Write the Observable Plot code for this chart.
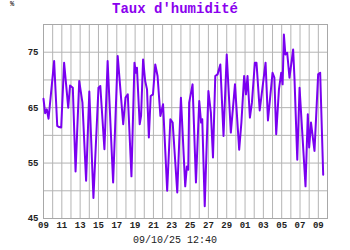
<!DOCTYPE html>
<html>
<head>
<meta charset="utf-8">
<script src="https://cdn.jsdelivr.net/npm/d3@7"></script>
<script src="https://cdn.jsdelivr.net/npm/@observablehq/plot@0.6"></script>
<style>
  html, body { margin: 0; padding: 0; background: #fff; }
  #wrap { position: relative; width: 350px; height: 250px; overflow: hidden; }
  #wrap svg { position: absolute; left: 0; top: 0; }
  .txt { position: absolute; font-family: "Liberation Mono", "DejaVu Sans Mono", monospace; font-weight: bold; white-space: nowrap; }
  #title { left: 0; width: 350px; text-align: center; top: 1px; font-size: 14px; color: #8a00ee; }
  #unit { left: 10px; top: 0px; font-size: 7px; color: #333; }
  #caption { left: 0; width: 350px; text-align: center; top: 235px; font-size: 10px; color: #222; font-weight: normal; }
</style>
</head>
<body>
<div id="wrap">
  <div id="title" class="txt">Taux d'humidité</div>
  <div id="unit" class="txt">%</div>
  <div id="caption" class="txt">09/10/25 12:40</div>
</div>
<script>
// ---- data ----
const startDate = "2025-09-09T00:00:00Z";
const endDate = "2025-10-10T00:00:00Z";
const dayOffsets = [
  0.0, 0.18, 0.36, 0.55, 1.16, 1.5, 1.7, 1.93, 2.25, 2.7, 2.9, 3.2, 3.5, 3.9, 4.25, 4.65, 5.0, 5.45, 6.0, 6.2, 6.65, 7.0, 7.6,
  8.1, 8.7, 8.95, 9.2, 9.6, 9.93, 10.07, 10.2, 10.5, 10.65, 10.87, 11.1, 11.3, 11.5, 11.7, 11.95, 12.2, 12.45, 12.76, 13.05, 13.5, 13.85, 14.1, 14.6, 15.0,
  15.47, 15.65, 15.8, 15.9, 16.27, 16.64, 17.0, 17.2, 17.33, 17.6, 18.0, 18.27, 18.5, 18.75, 19.0, 19.3, 19.65, 20.0, 20.45, 20.9, 21.36, 21.6, 21.9, 22.1, 22.27, 22.53, 22.75, 23.07,
  23.25, 23.6, 24.24, 24.5, 25.0, 25.2, 25.4, 25.7, 25.95, 26.1, 26.24, 26.4, 26.6, 26.85, 27.25, 27.4, 27.7, 27.95, 28.6, 28.85, 29.0, 29.2, 29.58, 29.98, 30.2, 30.53
];
const humidity = [
  66.6, 64.0, 64.7, 63.0, 73.4, 61.7, 61.5, 61.4, 73.1, 65.0, 69.0, 68.6, 53.5, 69.8, 65.9, 51.8, 67.9, 48.7, 68.6, 68.9, 57.5, 73.4, 51.5,
  74.3, 62.0, 66.8, 67.4, 52.6, 73.1, 71.3, 72.2, 62.0, 63.5, 73.7, 69.8, 68.3, 59.6, 67.1, 67.4, 72.8, 70.7, 63.5, 65.6, 50.0, 62.9, 62.3, 49.7, 66.8,
  50.8, 54.4, 53.8, 65.9, 69.2, 51.5, 66.2, 62.3, 62.9, 47.2, 68.0, 64.1, 56.0, 70.7, 71.0, 72.8, 59.9, 74.6, 60.5, 69.2, 57.4, 62.3, 70.7, 67.4, 70.7, 63.2, 65.9, 73.1,
  73.1, 64.5, 73.1, 62.7, 71.3, 70.4, 60.2, 68.3, 71.3, 69.2, 78.2, 74.6, 74.9, 70.4, 75.5, 70.1, 55.6, 68.6, 50.8, 63.8, 57.8, 62.3, 57.2, 71.0, 71.3, 52.9
];
const xTickDates = ["2025-09-09","2025-09-11","2025-09-13","2025-09-15","2025-09-17","2025-09-19","2025-09-21","2025-09-23","2025-09-25","2025-09-27","2025-09-29","2025-10-01","2025-10-03","2025-10-05","2025-10-07","2025-10-09"];
const yTickLabels = [45, 55, 65, 75];
const yGridValues = [50, 55, 60, 65, 70, 75];

// ---- build ----
const t0 = new Date(startDate);
const t1 = new Date(endDate);
const data = dayOffsets.map((d, i) => ({ date: new Date(+t0 + d * 864e5), value: humidity[i] }));
const dayLines = d3.utcDay.range(t0, new Date(+t1 + 1));
const font = { fontFamily: "Liberation Mono, DejaVu Sans Mono, monospace", fontWeight: "bold", fontSize: 9, fill: "#222" };

const chart = Plot.plot({
  width: 350,
  height: 250,
  marginLeft: 43,
  marginRight: 23,
  marginTop: 24,
  marginBottom: 32,
  style: { background: "transparent", overflow: "visible" },
  x: { type: "utc", domain: [t0, t1] },
  y: { domain: [45, 80] },
  marks: [
    Plot.ruleX(dayLines, { stroke: "#b4b4b4", strokeWidth: 1 }),
    Plot.ruleY(yGridValues, { stroke: "#b4b4b4", strokeWidth: 1 }),
    Plot.frame({ stroke: "#a8a8a8", strokeWidth: 1 }),
    Plot.line(data, { x: "date", y: "value", stroke: "#7a00f0", strokeWidth: 2, strokeLinejoin: "round" }),
    Plot.axisX(xTickDates.map(s => new Date(s + "T00:00:00Z")), { tickSize: 0, tickPadding: 3, tickFormat: d3.utcFormat("%d"), label: null, ...font }),
    Plot.axisY(yTickLabels, { tickSize: 0, tickPadding: 5, label: null, ...font })
  ]
});
document.getElementById("wrap").prepend(chart);
</script>
</body>
</html>
